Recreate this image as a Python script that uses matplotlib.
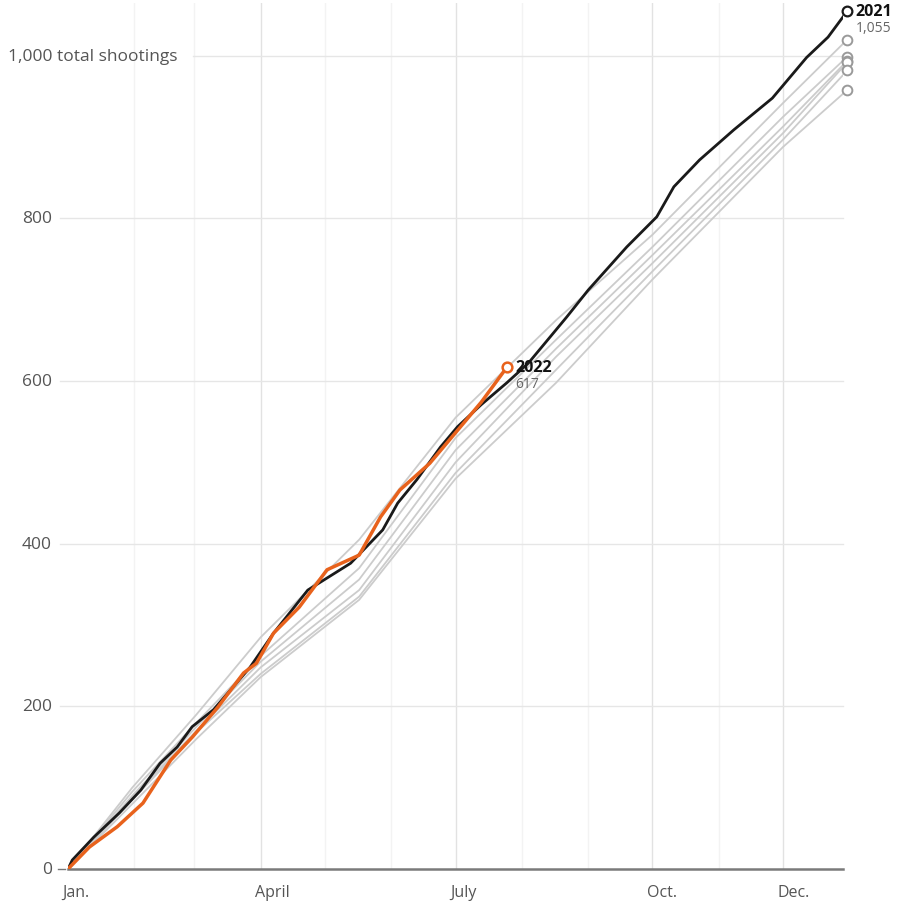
import matplotlib.pyplot as plt
from matplotlib import transforms

plt.rcParams['font.family'] = ['Open Sans', 'DejaVu Sans']

# day of year -> cumulative shootings
days_2021 = [0, 2, 12, 24, 34, 43, 51, 58, 68, 85, 96, 112, 132, 147, 154, 163, 174,
             182, 193, 205, 215, 233, 243, 261, 275, 283, 295, 311, 329, 345, 355, 364]
vals_2021 = [0, 11, 39, 69, 97, 130, 150, 175, 196, 248, 290, 343, 376, 417, 450, 479, 519,
             544, 571, 598, 622, 679, 712, 765, 802, 839, 872, 909, 948, 998, 1023, 1055]

days_2022 = [0, 10, 23, 35, 48, 58, 70, 82, 88, 96, 108, 121, 136, 146, 155, 169, 177, 193, 205]
vals_2022 = [0, 27, 52, 81, 134, 162, 199, 241, 253, 290, 322, 368, 386, 433, 466, 499, 524, 574, 617]

# other years (gray)
gray_days = [0, 30, 60, 90, 136, 181, 228, 273, 334, 364]
gray_vals = {
    '2020': [0, 100, 190, 285, 405, 555, 675, 780, 942, 1020],
    '2019': [0, 95, 180, 262, 370, 530, 651, 765, 925, 999],
    '2015': [0, 90, 175, 255, 356, 515, 640, 755, 913, 994],
    '2018': [0, 88, 170, 248, 343, 500, 630, 745, 905, 992],
    '2017': [0, 85, 168, 240, 335, 487, 614, 735, 897, 982],
    '2016': [0, 80, 160, 236, 331, 480, 598, 725, 888, 958],
}

month_days = [31, 59, 90, 120, 151, 181, 212, 243, 273, 304, 334]
major_months = [0, 90, 181, 273, 334]
major_labels = ['Jan.', 'April', 'July', 'Oct.', 'Dec.']
y_ticks = [0, 200, 400, 600, 800, 1000]

W, H = 897, 903
fig = plt.figure(figsize=(W / 100, H / 100), dpi=100)
ax = fig.add_axes([68 / W, 1 - 870 / H, 775 / W, 866 / H])
ax.set_xlim(0, 362)
ax.set_ylim(0, 1065)
for s in ax.spines.values():
    s.set_visible(False)
ax.set_xticks([])
ax.set_yticks([])

# vertical grid
for d in month_days:
    c = '#e2e2e2' if d in major_months else '#f3f3f3'
    ax.axvline(d, color=c, lw=1, zorder=0)

# horizontal grid + labels
trans = transforms.blended_transform_factory(ax.transAxes, ax.transData)
for v in y_ticks[1:]:
    if v == 1000:
        ax.plot([125 / 775, 1], [v, v], color='#e6e6e6', lw=1, transform=trans,
                clip_on=False, zorder=0)
        ax.text(-60 / 775, v, '1,000 total shootings', transform=trans, ha='left',
                va='center', fontsize=12.5, color='#555555')
    else:
        ax.plot([-8 / 775, 1], [v, v], color='#e6e6e6', lw=1, transform=trans,
                clip_on=False, zorder=0)
        ax.text(-16 / 775, v, f'{v}', transform=trans, ha='right', va='center',
                fontsize=12.5, color='#555555')
ax.text(-16 / 775, 0, '0', transform=trans, ha='right', va='center',
        fontsize=12.5, color='#555555')
ax.plot([-10 / 775, -3 / 775], [0, 0], color='#777777', lw=1, transform=trans, clip_on=False)
ax.plot([0, 1], [0, 0], color='#7a7a7a', lw=1.8, transform=trans, clip_on=False, zorder=5)

for d, lab in zip(major_months, major_labels):
    ax.text(d - 2.5, -18, lab, ha='left', va='top', fontsize=11.5, color='#555555')

# gray years
for yr, vals in gray_vals.items():
    ax.plot(gray_days, vals, color='#cccccc', lw=1.3, zorder=2)
    ax.plot(gray_days[-1], vals[-1], 'o', ms=7, mfc='white', mec='#9a9a9a', mew=1.4,
            clip_on=False, zorder=3)

# 2021
ax.plot(days_2021, vals_2021, color='#1a1a1a', lw=2, zorder=4)
ax.plot(days_2021[-1], vals_2021[-1], 'o', ms=7, mfc='white', mec='#1a1a1a', mew=1.6,
        clip_on=False, zorder=6)
ax.text(days_2021[-1] + 4, vals_2021[-1], '2021', fontsize=11.5, fontweight='bold',
        color='#111111', va='center', ha='left')
ax.text(days_2021[-1] + 4, vals_2021[-1] - 20, '1,055', fontsize=10,
        color='#666666', va='center', ha='left')

# 2022
ax.plot(days_2022, vals_2022, color='#e8621c', lw=2.5, zorder=5)
ax.plot(days_2022[-1], vals_2022[-1], 'o', ms=7, mfc='white', mec='#e8621c', mew=1.8,
        zorder=6)
ax.text(days_2022[-1] + 4, vals_2022[-1], '2022', fontsize=11.5, fontweight='bold',
        color='#111111', va='center', ha='left', zorder=7)
ax.text(days_2022[-1] + 4, vals_2022[-1] - 20, '617', fontsize=10,
        color='#666666', va='center', ha='left', zorder=7)

fig.savefig('out.png', dpi=100, facecolor='white')
